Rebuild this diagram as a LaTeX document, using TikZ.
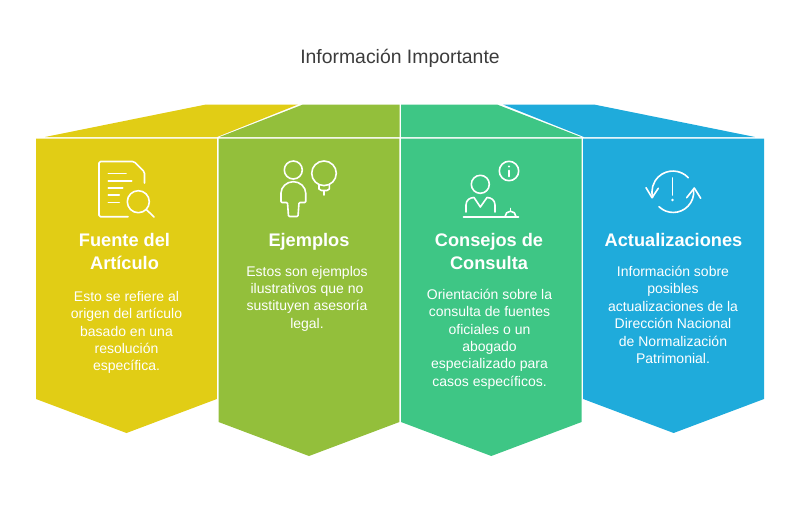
\documentclass[tikz,border=0pt]{standalone}
\usepackage{fontspec}
\setmainfont{Liberation Sans}
\definecolor{cyel}{HTML}{E1CD15}
\definecolor{cgrn}{HTML}{93BF3B}
\definecolor{ctea}{HTML}{3EC685}
\definecolor{cblu}{HTML}{1FABDB}
\definecolor{ctxt}{HTML}{3C3C3C}
\tikzset{
 titletext/.style={text=ctxt,font=\fontsize{19.4}{22}\selectfont,inner sep=0pt},
 headtext/.style={text=white,font=\fontsize{18.2}{23}\selectfont\bfseries,align=center,inner sep=0pt},
 bodytext/.style={text=white,font=\fontsize{14}{17.4}\selectfont,align=center,inner sep=0pt},
 icon/.style={draw=white,line width=1.6pt,line cap=round,line join=round},
}
\begin{document}
\begin{tikzpicture}[x=1pt,y=-1pt]
\useasboundingbox (0,0) rectangle (800,515);
% top faces
\fill[cyel] (45,137) -- (206,104.5) -- (298,104.5) -- (217,137) -- cycle;
\fill[cgrn] (219.5,137) -- (303,104.5) -- (399.5,104.5) -- (399.5,137) -- cycle;
\fill[ctea] (401,104.5) -- (497,104.5) -- (581,137) -- (401,137) -- cycle;
\fill[cblu] (503,104.5) -- (594,104.5) -- (755,137) -- (584,137) -- cycle;
% front faces
\fill[cyel] (36,138.5) -- (216.8,138.5) -- (216.8,399) -- (126.5,433) -- (36,399) -- cycle;
\fill[cgrn] (218.6,138.5) -- (399.4,138.5) -- (399.4,422) -- (309,456) -- (218.6,422) -- cycle;
\fill[ctea] (401,138.5) -- (581.6,138.5) -- (581.6,422) -- (491.3,456) -- (401,422) -- cycle;
\fill[cblu] (583.2,138.5) -- (764,138.5) -- (764,399) -- (673.6,433) -- (583.2,399) -- cycle;
% title
\node[titletext] (title) at (400,58.5) {Información Importante};
% headings
\node[headtext] (h1) at (124.5,251.5) {Fuente del\\Artículo};
\node[headtext] (h2) at (309,241.5) {Ejemplos};
\node[headtext] (h3) at (489,251.5) {Consejos de\\Consulta};
\node[headtext] (h4) at (673.5,240) {Actualizaciones};
% bodies
\node[bodytext] (b1) at (126.5,332.5) {Esto se refiere al\\origen del artículo\\basado en una\\resolución\\específica.};
\node[bodytext] (b2) at (307,298.5) {Estos son ejemplos\\ilustrativos que no\\sustituyen asesoría\\legal.};
\node[bodytext] (b3) at (489.5,339) {Orientación sobre la\\consulta de fuentes\\oficiales o un\\abogado\\especializado para\\casos específicos.};
\node[bodytext] (b4) at (673,315) {Información sobre\\posibles\\actualizaciones de la\\Dirección Nacional\\de Normalización\\Patrimonial.};
% icon 1
\draw[icon,rounded corners=1.5pt] (128,216.7) -- (99,216.7) -- (99,161.5) -- (134,161.5) -- (144.5,172) -- (144.5,183);
\draw[icon] (108.3,173.3) -- (126,173.3) (108.3,180.7) -- (131.7,180.7) (108.3,187.7) -- (122.7,187.7) (108.3,195) -- (119.3,195) (108.3,202.3) -- (119.3,202.3);
\draw[icon] (138.3,201.7) circle[radius=11pt];
\draw[icon] (146.3,209.5) -- (154,217);
% icon 2
\draw[icon] (293.3,170) circle[radius=9pt];
\draw[icon,rounded corners=1pt] (288.5,216.5) -- (287.5,202.5) -- (281,202.5) -- (281,194) arc[start angle=180,end angle=0,radius=12.35pt] -- (305.7,202.5) -- (299,202.5) -- (298,216.5) -- cycle;
\draw[icon] (324,173.3) circle[radius=12.3pt];
\draw[icon] (319,184.5) -- (319,189) -- (321.5,190.5) -- (327,190.5) -- (329.3,189) -- (329.3,184.5) (324,190.5) -- (324,195);
% icon 3
\draw[icon] (509,171) circle[radius=9.7pt];
\draw[icon] (509,170.5) -- (509,176.5);
\fill[white] (509,166.5) circle[radius=1.1pt];
\draw[icon] (480.3,184.3) circle[radius=9pt];
\draw[icon] (466,212) -- (466,205) .. controls (466,200) and (470,197.5) .. (474,197.5) -- (480.3,207) -- (487,197.5) .. controls (491,197.5) and (495,200) .. (495,205) -- (495,212);
\draw[icon] (463.5,216.7) -- (518.5,216.7);
\draw[icon] (505,216.7) arc[start angle=180,end angle=0,radius=5.5pt];
\draw[icon] (510.5,208.5) -- (510.5,211);
% icon 4
\draw[icon] (688.3,177.7) arc[start angle=43,end angle=195,radius=21pt];
\draw[icon] (646,187.7) -- (652,197.7) -- (658.3,188.3);
\draw[icon] (659,206.7) arc[start angle=226,end angle=365,radius=20.5pt];
\draw[icon] (686.7,197.7) -- (694.3,188) -- (700.7,198.3);
\draw[icon] (672.5,178) -- (672.5,195);
\fill[white] (672.5,200) circle[radius=1.3pt];
\end{tikzpicture}
\end{document}
